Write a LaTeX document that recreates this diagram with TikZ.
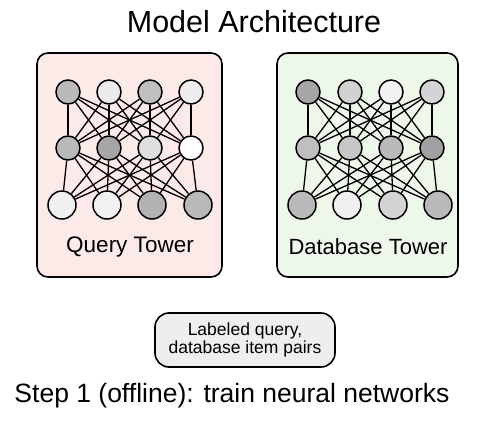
\documentclass[tikz,border=0pt]{standalone}
\usepackage{fontspec}
\setmainfont{Liberation Sans}
\usetikzlibrary{positioning}
\usetikzlibrary{backgrounds}
\definecolor{querypink}{HTML}{FBEAE8}
\definecolor{dbgreen}{HTML}{EEF8EA}
\definecolor{pairgray}{HTML}{EEEEEE}
\tikzset{%
  towerbox/.style={draw=black, line width=1.6pt, rounded corners=11pt},
  neuron/.style={circle, draw=black, line width=1.5pt, minimum size=24pt, inner sep=0pt},
  bigneuron/.style={neuron, minimum size=28pt},
  synapse/.style={line width=1.3pt}
}

\begin{document}
\begin{tikzpicture}[x=1pt,y=-1pt]
  \useasboundingbox (0,0) rectangle (480,434);
  \node[font=\fontsize{30.5}{33}\selectfont] (title) at (254,22) {Model Architecture};
  % query tower
  \foreach \x/\c [count=\i] in {68/black!27, 109/black!8, 150/black!25, 191/black!7}
    \node[neuron, fill=\c] (q1\i) at (\x,92) {};
  \foreach \x/\c [count=\i] in {68/black!27, 109/black!35, 150/black!13, 191/white}
    \node[neuron, fill=\c] (q2\i) at (\x,148) {};
  \foreach \x/\c [count=\i] in {62/black!6, 107/black!5, 152/black!30, 198/black!28}
    \node[bigneuron, fill=\c] (q3\i) at (\x,205) {};
  \node[font=\fontsize{22.5}{25}\selectfont] (qlabel) at (130,247) {Query Tower};
  % database tower
  \foreach \x/\c [count=\i] in {308/black!35, 350/black!18, 391/black!5, 432/black!17}
    \node[neuron, fill=\c] (d1\i) at (\x,92) {};
  \foreach \x/\c [count=\i] in {308/black!25, 350/black!22, 391/black!27, 432/black!37}
    \node[neuron, fill=\c] (d2\i) at (\x,148) {};
  \foreach \x/\c [count=\i] in {302/black!27, 347/black!6, 393/black!17, 438/black!27}
    \node[bigneuron, fill=\c] (d3\i) at (\x,205) {};
  \node[font=\fontsize{22}{25}\selectfont] (dlabel) at (368,247) {Database Tower};
  % training data
  \node[draw=black, line width=1.6pt, fill=pairgray, rounded corners=14pt,
        minimum width=180pt, minimum height=54pt, align=center,
        font=\fontsize{17.5}{18.5}\selectfont] (pairs) at (245,340)
        {Labeled query,\\database item pairs};
  \node[font=\fontsize{26.5}{29}\selectfont] (step) at (232,396)
        {Step 1 (offline): train neural networks};
  \begin{scope}[on background layer]
    \draw[towerbox, fill=querypink] (37,53) rectangle (222,277);
    \draw[towerbox, fill=dbgreen] (277,53) rectangle (458,277);
    \foreach \i in {1,...,4}
      \foreach \j in {1,...,4} {
        \draw[synapse] (q1\i) -- (q2\j);
        \draw[synapse] (q2\i) -- (q3\j);
        \draw[synapse] (d1\i) -- (d2\j);
        \draw[synapse] (d2\i) -- (d3\j);
      }
  \end{scope}
\end{tikzpicture}
\end{document}
